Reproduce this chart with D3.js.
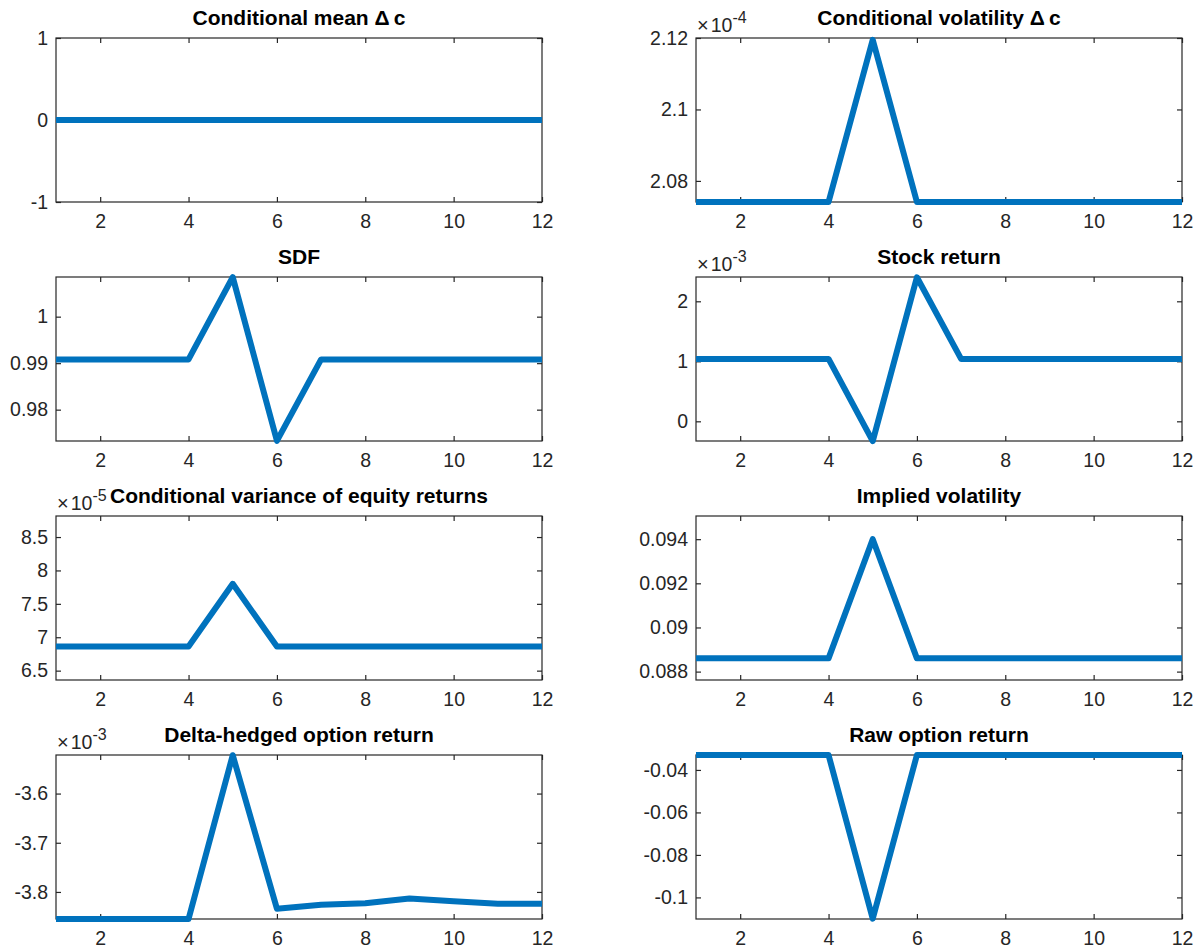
<!DOCTYPE html>
<html>
<head>
<meta charset="utf-8">
<script src="https://cdn.jsdelivr.net/npm/d3@7"></script>
<style>
  html, body { margin: 0; padding: 0; background: #fff; }
  svg { display: block; font-family: "Liberation Sans", Arial, Helvetica, sans-serif; }
</style>
</head>
<body>
<svg id="chart"></svg>
<script>
// horizon (periods)
const periods = [1, 2, 3, 4, 5, 6, 7, 8, 9, 10, 11, 12];

// series
const condMean   = [0, 0, 0, 0, 0, 0, 0, 0, 0, 0, 0, 0];
const condVol    = [2.0741e-4, 2.0741e-4, 2.0741e-4, 2.0741e-4, 2.1195e-4, 2.0741e-4, 2.0741e-4, 2.0741e-4, 2.0741e-4, 2.0741e-4, 2.0741e-4, 2.0741e-4];
const sdf        = [0.9908, 0.9908, 0.9908, 0.9908, 1.0085, 0.9733, 0.9908, 0.9908, 0.9908, 0.9908, 0.9908, 0.9908];
const stockRet   = [1.04e-3, 1.04e-3, 1.04e-3, 1.04e-3, -0.33e-3, 2.40e-3, 1.04e-3, 1.04e-3, 1.04e-3, 1.04e-3, 1.04e-3, 1.04e-3];
const condVarEq  = [6.86e-5, 6.86e-5, 6.86e-5, 6.86e-5, 7.80e-5, 6.86e-5, 6.86e-5, 6.86e-5, 6.86e-5, 6.86e-5, 6.86e-5, 6.86e-5];
const impliedVol = [0.0886, 0.0886, 0.0886, 0.0886, 0.0940, 0.0886, 0.0886, 0.0886, 0.0886, 0.0886, 0.0886, 0.0886];
const deltaHedged = [-3.855e-3, -3.855e-3, -3.855e-3, -3.855e-3, -3.522e-3, -3.834e-3, -3.826e-3, -3.823e-3, -3.8135e-3, -3.819e-3, -3.824e-3, -3.824e-3];
const rawOption  = [-0.033, -0.033, -0.033, -0.033, -0.110, -0.033, -0.033, -0.033, -0.033, -0.033, -0.033, -0.033];

// axis limits and ticks (in displayed units, i.e. after the x10^n factor)
const xTicks = [2, 4, 6, 8, 10, 12];
const titles = [
  "Conditional mean \u0394\u2009c", "Conditional volatility \u0394\u2009c",
  "SDF", "Stock return",
  "Conditional variance of equity returns", "Implied volatility",
  "Delta-hedged option return", "Raw option return"
];
const series = [condMean, condVol, sdf, stockRet, condVarEq, impliedVol, deltaHedged, rawOption];
const exponents = [0, -4, 0, -3, -5, 0, -3, 0];
const yDomains = [
  [-1, 1], [2.0741, 2.12],
  [0.97326, 1.00853], [-0.328, 2.405],
  [6.36, 8.815], [0.08762, 0.09505],
  [-3.855, -3.5216], [-0.11016, -0.03297]
];
const yTicks = [
  [-1, 0, 1], [2.08, 2.1, 2.12],
  [0.98, 0.99, 1], [0, 1, 2],
  [6.5, 7, 7.5, 8, 8.5], [0.088, 0.09, 0.092, 0.094],
  [-3.8, -3.7, -3.6], [-0.1, -0.08, -0.06, -0.04]
];

const width = 1196, height = 948;
const svg = d3.select("#chart").attr("width", width).attr("height", height);

const colLeft = [56, 696];
const plotW = 486;
const rowTop = [38, 277, 516, 755];
const plotH = 164;

const axisColor = "#262626";
const lineColor = "#0072BD";
const tickLen = 5;

series.forEach((values, i) => {
  const col = i % 2, row = Math.floor(i / 2);
  const left = colLeft[col], top = rowTop[row];
  const factor = Math.pow(10, exponents[i]);

  const x = d3.scaleLinear().domain([1, 12]).range([0, plotW]);
  const y = d3.scaleLinear().domain(yDomains[i]).range([plotH, 0]);

  const g = svg.append("g").attr("transform", `translate(${left},${top})`);

  // box
  g.append("rect")
    .attr("width", plotW).attr("height", plotH)
    .attr("fill", "none").attr("stroke", axisColor).attr("stroke-width", 1.2);

  const fmt = d => String(d);

  // bottom axis with labels, inward ticks
  const xAxis = g.append("g").attr("transform", `translate(0,${plotH})`)
    .call(d3.axisBottom(x).tickValues(xTicks).tickSizeInner(-tickLen).tickSizeOuter(0).tickPadding(12).tickFormat(fmt));
  // top ticks
  const xTop = g.append("g")
    .call(d3.axisTop(x).tickValues(xTicks).tickSizeInner(-tickLen).tickSizeOuter(0).tickFormat(""));
  // left axis
  const yAxis = g.append("g")
    .call(d3.axisLeft(y).tickValues(yTicks[i]).tickSizeInner(-tickLen).tickSizeOuter(0).tickPadding(8).tickFormat(fmt));
  // right ticks
  const yRight = g.append("g").attr("transform", `translate(${plotW},0)`)
    .call(d3.axisRight(y).tickValues(yTicks[i]).tickSizeInner(-tickLen).tickSizeOuter(0).tickFormat(""));

  [xAxis, xTop, yAxis, yRight].forEach(a => {
    a.select(".domain").remove();
    a.selectAll(".tick line").attr("stroke", axisColor).attr("stroke-width", 1.2);
    a.selectAll("text").attr("fill", axisColor).style("font-size", "19.5px");
  });
  xAxis.selectAll("text").attr("dy", "0.71em");

  // title
  g.append("text")
    .attr("x", plotW / 2).attr("y", -13)
    .attr("text-anchor", "middle")
    .style("font-size", "21px").style("font-weight", "bold")
    .attr("fill", "#000")
    .text(titles[i]);

  // x10^n factor
  if (exponents[i] !== 0) {
    const t = g.append("text").attr("x", 1).attr("y", -6)
      .attr("fill", axisColor).style("font-size", "19.5px");
    t.append("tspan").style("font-size", "20px").text("\u00d7");
    t.append("tspan").attr("dx", 2).text("10");
    t.append("tspan").attr("dy", -9).style("font-size", "16px").text(String(exponents[i]));
  }

  // series line
  const line = d3.line()
    .x((d, k) => x(periods[k]))
    .y(d => y(d / factor));

  g.append("path")
    .datum(values)
    .attr("fill", "none")
    .attr("stroke", lineColor)
    .attr("stroke-width", 6)
    .attr("stroke-linejoin", "round")
    .attr("d", line);
});
</script>
</body>
</html>
